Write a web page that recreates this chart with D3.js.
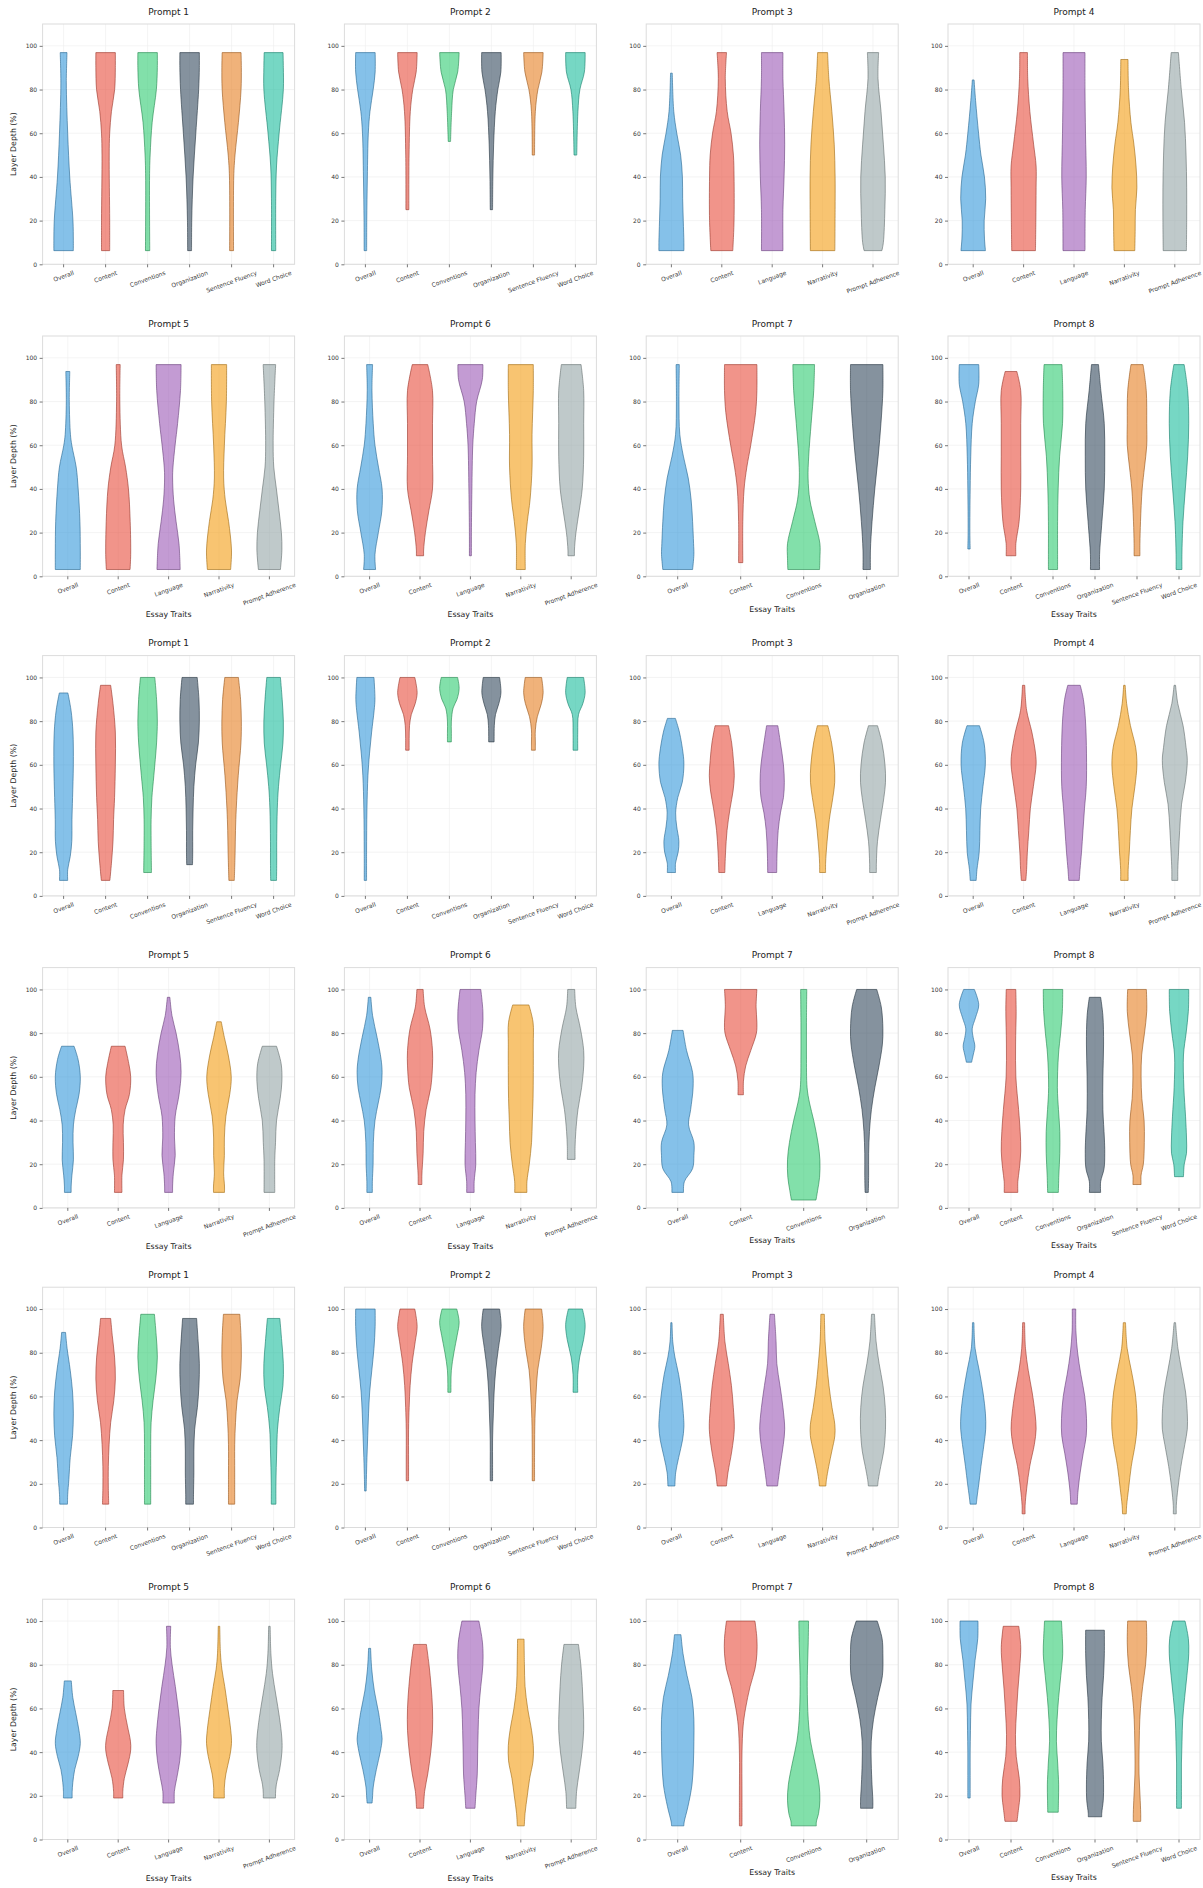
<!DOCTYPE html>
<html><head><meta charset="utf-8">
<script src="https://cdn.jsdelivr.net/npm/d3@7"></script>
<style>
body{margin:0;background:#fff}
svg{display:block}
text{font-family:"DejaVu Sans",sans-serif}
</style></head>
<body><svg id="chart" width="1203" height="1888"></svg>
<script>
// ---------------- DATA ----------------
const panelTitles = ["Prompt 1","Prompt 2","Prompt 3","Prompt 4","Prompt 5","Prompt 6","Prompt 7","Prompt 8"];
const traitsSix = ["Overall","Content","Conventions","Organization","Sentence Fluency","Word Choice"];
const traitsFive = ["Overall","Content","Language","Narrativity","Prompt Adherence"];
const traitsFour = ["Overall","Content","Conventions","Organization"];
const promptTraits = [traitsSix, traitsSix, traitsFive, traitsFive, traitsFive, traitsFive, traitsFour, traitsSix];
const yTickValues = [0, 20, 40, 60, 80, 100];
const yAxisTitle = "Layer Depth (%)";
const xAxisTitle = "Essay Traits";

// violin profiles: per prompt, per trait: [layer depth %, relative density width] from min to max depth
const modelA = [
 [ // Prompt 1
  [[6.25,1.0],[11,1.0],[20,0.96],[40,0.63],[60,0.42],[83,0.28],[96.9,0.35]],
  [[6.25,0.42],[20,0.42],[50,0.37],[60,0.42],[70,0.6],[80,0.93],[90,1.0],[96.9,1.0]],
  [[6.25,0.22],[40,0.2],[50,0.26],[65,0.47],[80,0.9],[90,1.0],[96.9,1.0]],
  [[6.25,0.2],[20,0.22],[40,0.36],[60,0.64],[80,0.93],[90,1.0],[96.9,1.0]],
  [[6.25,0.2],[40,0.22],[50,0.35],[65,0.7],[80,0.97],[90,1.0],[96.9,0.97]],
  [[6.25,0.22],[30,0.22],[45,0.3],[60,0.57],[80,1.0],[90,1.0],[96.9,0.97]]
 ],
 [ // Prompt 2
  [[6.25,0.13],[20,0.14],[40,0.2],[60,0.3],[70,0.47],[80,0.8],[88,1.0],[96.9,1.0]],
  [[25,0.15],[50,0.17],[70,0.3],[80,0.55],[88,0.9],[96.9,1.0]],
  [[56.25,0.12],[70,0.23],[80,0.4],[88,0.85],[96.9,1.0]],
  [[25,0.12],[40,0.15],[55,0.23],[70,0.4],[80,0.66],[88,0.97],[96.9,1.0]],
  [[50,0.12],[70,0.2],[80,0.46],[88,0.87],[96.9,1.0]],
  [[50,0.14],[70,0.26],[80,0.46],[88,0.92],[96.9,1.0]]
 ],
 [ // Prompt 3
  [[6.25,1.0],[10,1.0],[20,0.95],[30,0.9],[40,0.88],[50,0.74],[60,0.43],[70,0.19],[87.5,0.07]],
  [[6.25,0.88],[20,0.98],[40,0.98],[50,0.93],[60,0.74],[70,0.43],[85,0.28],[96.9,0.38]],
  [[6.25,0.86],[25,0.86],[40,0.95],[55,1.0],[70,0.95],[85,0.86],[96.9,0.86]],
  [[6.25,0.98],[25,1.0],[40,1.0],[55,0.93],[70,0.74],[85,0.5],[96.9,0.4]],
  [[6.25,0.71],[10,0.83],[25,0.95],[40,0.98],[55,0.83],[70,0.64],[85,0.4],[96.9,0.45]]
 ],
 [ // Prompt 4
  [[6.25,0.98],[12,0.9],[20,0.88],[30,1.0],[40,0.9],[50,0.62],[60,0.43],[75,0.19],[84.4,0.07]],
  [[6.25,0.95],[20,0.98],[35,1.0],[45,1.0],[55,0.8],[70,0.5],[85,0.33],[96.9,0.31]],
  [[6.25,0.88],[25,0.9],[40,0.98],[60,0.92],[80,0.88],[96.9,0.88]],
  [[6.25,0.83],[15,0.86],[25,0.88],[35,1.0],[45,0.93],[55,0.76],[65,0.52],[80,0.33],[93.75,0.29]],
  [[6.25,0.93],[20,0.95],[35,0.95],[50,0.9],[65,0.78],[80,0.52],[96.9,0.29]]
 ],
 [ // Prompt 5
  [[3.1,1.0],[12,1.0],[25,0.97],[40,0.83],[50,0.67],[60,0.32],[65,0.21],[80,0.12],[93.75,0.16]],
  [[3.1,0.95],[10,1.0],[25,0.96],[40,0.82],[50,0.59],[60,0.27],[80,0.13],[96.9,0.16]],
  [[3.1,0.93],[15,0.83],[25,0.6],[35,0.4],[45,0.32],[50,0.35],[60,0.52],[70,0.72],[85,0.95],[96.9,1.0]],
  [[3.1,0.93],[12,1.0],[25,0.77],[35,0.5],[45,0.37],[60,0.43],[80,0.59],[96.9,0.61]],
  [[3.1,0.88],[12,1.0],[20,0.96],[30,0.77],[40,0.56],[50,0.35],[60,0.3],[80,0.37],[96.9,0.5]]
 ],
 [ // Prompt 6
  [[3.1,0.48],[10,0.43],[20,0.7],[30,0.98],[40,1.0],[50,0.71],[60,0.43],[70,0.29],[85,0.19],[96.9,0.24]],
  [[9.4,0.29],[12,0.29],[20,0.43],[30,0.71],[40,1.0],[55,1.0],[70,1.0],[85,1.0],[96.9,0.62]],
  [[9.4,0.08],[20,0.08],[40,0.12],[60,0.19],[70,0.31],[80,0.5],[90,0.95],[96.9,1.0]],
  [[3.1,0.36],[15,0.36],[25,0.52],[35,0.74],[50,0.9],[65,0.9],[85,1.0],[96.9,1.0]],
  [[9.4,0.26],[12,0.26],[20,0.38],[30,0.64],[40,0.88],[55,1.0],[70,1.0],[85,1.0],[96.9,0.79]]
 ],
 [ // Prompt 7
  [[3.1,0.92],[10,1.0],[15,0.98],[25,0.92],[35,0.83],[45,0.65],[55,0.35],[65,0.13],[80,0.08],[96.9,0.1]],
  [[6.25,0.13],[25,0.13],[40,0.21],[50,0.38],[60,0.62],[75,0.92],[85,1.0],[96.9,1.0]],
  [[3.1,0.98],[8,1.0],[15,1.0],[25,0.69],[35,0.38],[45,0.27],[55,0.31],[70,0.46],[85,0.62],[96.9,0.67]],
  [[3.1,0.23],[12,0.23],[25,0.33],[40,0.5],[55,0.71],[70,0.88],[85,1.0],[96.9,1.0]]
 ],
 [ // Prompt 8
  [[12.5,0.12],[20,0.09],[40,0.12],[55,0.18],[70,0.33],[80,0.65],[88,1.0],[96.9,1.0]],
  [[9.4,0.5],[15,0.5],[25,0.83],[40,1.0],[55,1.0],[70,1.0],[85,1.0],[93.75,0.6]],
  [[3.1,0.47],[10,0.47],[25,0.47],[40,0.53],[55,0.68],[70,0.98],[85,1.0],[96.9,0.92]],
  [[3.1,0.47],[10,0.47],[25,0.71],[40,0.95],[55,1.0],[70,0.95],[85,0.6],[96.9,0.36]],
  [[9.4,0.3],[15,0.3],[25,0.36],[40,0.53],[50,0.77],[60,1.0],[70,1.0],[85,0.95],[96.9,0.62]],
  [[3.1,0.3],[10,0.3],[25,0.41],[40,0.65],[55,0.89],[70,1.0],[85,0.89],[96.9,0.53]]
 ]
];

const modelB = [
 [ // Prompt 1
  [[7.1,0.42],[12,0.42],[18,0.68],[25,0.84],[35,0.86],[45,0.92],[60,1.0],[75,0.96],[85,0.76],[92.9,0.44]],
  [[7.1,0.44],[15,0.6],[25,0.76],[35,0.82],[45,0.92],[60,1.0],[75,1.0],[88,0.76],[96.4,0.52]],
  [[10.7,0.4],[25,0.36],[35,0.36],[45,0.44],[55,0.64],[70,0.92],[80,1.0],[90,0.92],[100,0.74]],
  [[14.3,0.3],[20,0.32],[30,0.32],[40,0.36],[50,0.44],[60,0.62],[70,0.9],[80,1.0],[90,0.96],[100,0.78]],
  [[7.1,0.28],[20,0.36],[30,0.4],[40,0.48],[55,0.68],[70,0.96],[80,1.0],[90,0.92],[100,0.7]],
  [[7.1,0.3],[15,0.32],[25,0.32],[40,0.38],[50,0.5],[60,0.72],[70,0.96],[80,1.0],[90,0.88],[100,0.7]]
 ],
 [ // Prompt 2
  [[7.1,0.12],[20,0.12],[40,0.16],[55,0.26],[65,0.42],[75,0.64],[85,0.9],[90,0.98],[100,0.88]],
  [[66.7,0.18],[72,0.18],[78,0.22],[83,0.4],[88,0.8],[93,1.0],[100,0.76]],
  [[70.5,0.2],[75,0.2],[80,0.2],[86,0.38],[90,0.78],[95,1.0],[100,0.84]],
  [[70.5,0.28],[73,0.28],[78,0.3],[83,0.42],[88,0.76],[93,0.98],[100,0.84]],
  [[66.7,0.2],[70,0.2],[76,0.2],[82,0.4],[88,0.82],[93,1.0],[100,0.84]],
  [[66.7,0.24],[75,0.24],[83,0.32],[88,0.76],[93,1.0],[100,0.84]]
 ],
 [ // Prompt 3
  [[10.7,0.33],[15,0.33],[20,0.54],[25,0.6],[32,0.42],[38,0.34],[45,0.51],[52,0.87],[60,1.0],[65,0.94],[75,0.64],[81.25,0.32]],
  [[10.7,0.24],[20,0.3],[30,0.42],[40,0.66],[48,0.9],[55,1.0],[62,0.93],[70,0.79],[77.9,0.54]],
  [[10.7,0.36],[20,0.39],[30,0.48],[38,0.66],[45,0.9],[52,0.97],[60,0.9],[70,0.66],[77.9,0.45]],
  [[10.7,0.24],[15,0.24],[25,0.36],[35,0.54],[45,0.82],[52,0.97],[60,0.94],[70,0.72],[77.9,0.42]],
  [[10.7,0.27],[15,0.27],[25,0.36],[35,0.6],[45,0.87],[52,1.0],[60,0.96],[70,0.72],[77.9,0.36]]
 ],
 [ // Prompt 4
  [[7.1,0.24],[12,0.3],[20,0.48],[30,0.54],[40,0.6],[50,0.78],[60,0.97],[70,0.87],[77.9,0.5]],
  [[7.1,0.18],[12,0.24],[20,0.3],[30,0.42],[40,0.54],[50,0.78],[60,1.0],[65,0.96],[75,0.66],[85,0.24],[96.4,0.09]],
  [[7.1,0.42],[12,0.48],[20,0.6],[30,0.72],[40,0.84],[50,0.98],[65,1.0],[80,0.92],[90,0.75],[96.4,0.5]],
  [[7.1,0.3],[12,0.3],[20,0.39],[30,0.48],[40,0.6],[50,0.84],[60,1.0],[68,0.9],[78,0.48],[88,0.18],[96.4,0.06]],
  [[7.1,0.24],[12,0.24],[20,0.3],[30,0.39],[42,0.54],[52,0.84],[62,1.0],[68,0.9],[78,0.66],[88,0.24],[96.4,0.06]]
 ],
 [ // Prompt 5
  [[7.1,0.27],[10,0.27],[15,0.33],[22,0.45],[30,0.42],[38,0.45],[45,0.64],[52,0.9],[60,1.0],[68,0.82],[74,0.5]],
  [[7.1,0.3],[15,0.3],[22,0.42],[30,0.42],[38,0.4],[45,0.55],[52,0.9],[60,1.0],[66,0.85],[74,0.55]],
  [[7.1,0.32],[10,0.32],[16,0.38],[24,0.53],[32,0.47],[42,0.53],[52,0.84],[62,1.0],[70,0.9],[80,0.6],[88,0.27],[96.4,0.1]],
  [[7.1,0.44],[10,0.44],[16,0.37],[24,0.43],[32,0.43],[42,0.55],[52,0.86],[60,0.98],[70,0.74],[78,0.43],[85.2,0.18]],
  [[7.1,0.43],[22,0.43],[30,0.49],[40,0.57],[50,0.86],[58,1.0],[66,0.94],[74,0.57]]
 ],
 [ // Prompt 6
  [[7.1,0.22],[12,0.22],[20,0.28],[30,0.3],[40,0.43],[48,0.69],[55,0.92],[62,1.0],[68,0.92],[78,0.6],[88,0.24],[96.4,0.1]],
  [[10.7,0.15],[15,0.15],[25,0.25],[35,0.3],[45,0.49],[55,0.86],[65,1.0],[72,1.0],[82,0.8],[92,0.37],[100,0.25]],
  [[7.1,0.3],[12,0.3],[20,0.43],[30,0.4],[40,0.37],[52,0.37],[62,0.46],[72,0.68],[82,0.97],[90,1.0],[100,0.83]],
  [[7.1,0.49],[12,0.49],[20,0.68],[30,0.86],[40,0.92],[50,0.98],[62,1.0],[75,1.0],[85,0.98],[92.9,0.65]],
  [[22.2,0.31],[28,0.31],[35,0.37],[45,0.54],[55,0.83],[65,1.0],[72,1.0],[82,0.74],[92,0.37],[100,0.28]]
 ],
 [ // Prompt 7
  [[7.1,0.36],[12,0.41],[18,0.92],[24,1.0],[30,1.0],[38,0.67],[45,0.8],[55,0.95],[62,0.92],[72,0.55],[81.25,0.33]],
  [[51.8,0.17],[58,0.17],[65,0.31],[72,0.62],[80,0.97],[85,1.0],[92,0.95],[100,1.0]],
  [[3.6,0.76],[8,0.86],[14,0.98],[22,1.0],[30,0.88],[40,0.62],[48,0.36],[55,0.21],[70,0.17],[85,0.17],[100,0.19]],
  [[7.1,0.1],[15,0.12],[25,0.12],[35,0.17],[45,0.29],[55,0.5],[65,0.76],[75,0.97],[82,1.0],[92,0.9],[100,0.62]]
 ],
 [ // Prompt 8
  [[66.7,0.27],[70,0.43],[74,0.6],[78,0.43],[82,0.33],[87,0.66],[93,1.0],[100,0.55]],
  [[7.1,0.7],[12,0.7],[18,0.86],[26,1.0],[35,0.94],[45,0.78],[60,0.5],[75,0.47],[90,0.53],[100,0.49]],
  [[7.1,0.55],[15,0.6],[25,0.7],[35,0.7],[45,0.56],[55,0.45],[70,0.56],[80,0.78],[90,0.96],[100,1.0]],
  [[7.1,0.58],[12,0.58],[18,0.93],[25,1.0],[32,0.96],[45,0.81],[60,0.81],[75,0.88],[88,0.81],[96.4,0.58]],
  [[10.7,0.42],[15,0.42],[20,0.65],[30,0.75],[40,0.73],[50,0.5],[60,0.42],[70,0.48],[80,0.77],[90,1.0],[100,0.96]],
  [[14.3,0.46],[20,0.54],[25,0.77],[32,0.77],[42,0.67],[55,0.5],[70,0.46],[80,0.73],[90,0.96],[100,1.0]]
 ]
];

const modelC = [
 [ // Prompt 1
  [[10.7,0.4],[15,0.42],[22,0.54],[32,0.68],[42,0.92],[52,1.0],[62,0.92],[72,0.68],[82,0.36],[89.3,0.2]],
  [[10.7,0.32],[18,0.28],[28,0.28],[38,0.36],[48,0.52],[58,0.84],[68,1.0],[78,0.92],[88,0.68],[95.7,0.52]],
  [[10.7,0.32],[25,0.32],[38,0.32],[48,0.36],[58,0.56],[68,0.84],[78,1.0],[88,0.88],[97.6,0.7]],
  [[10.7,0.4],[15,0.4],[25,0.44],[35,0.44],[45,0.52],[55,0.8],[65,0.96],[75,1.0],[85,0.88],[95.7,0.72]],
  [[10.7,0.32],[25,0.32],[38,0.32],[48,0.4],[58,0.56],[68,0.88],[78,1.0],[88,0.96],[97.6,0.84]],
  [[10.7,0.24],[20,0.24],[35,0.32],[45,0.4],[55,0.64],[65,0.96],[75,1.0],[85,0.84],[95.7,0.64]]
 ],
 [ // Prompt 2
  [[16.7,0.08],[22,0.1],[32,0.16],[42,0.24],[52,0.32],[62,0.44],[72,0.66],[82,0.88],[92,1.0],[100,1.0]],
  [[21.4,0.12],[30,0.12],[45,0.12],[55,0.18],[65,0.28],[75,0.48],[85,0.8],[92,1.0],[100,0.76]],
  [[61.9,0.16],[66,0.16],[72,0.2],[80,0.46],[88,0.8],[94,1.0],[100,0.76]],
  [[21.4,0.12],[30,0.12],[40,0.12],[52,0.2],[62,0.28],[72,0.44],[82,0.72],[92,1.0],[100,0.84]],
  [[21.4,0.12],[35,0.12],[50,0.16],[62,0.28],[72,0.44],[82,0.8],[92,1.0],[100,0.84]],
  [[61.9,0.24],[70,0.24],[78,0.44],[86,0.84],[93,1.0],[100,0.72]]
 ],
 [ // Prompt 3
  [[19,0.28],[25,0.34],[32,0.58],[40,0.89],[46,1.0],[50,0.98],[60,0.83],[70,0.58],[78,0.28],[85,0.11],[93.75,0.05]],
  [[19,0.37],[25,0.49],[35,0.8],[45,1.0],[55,0.92],[65,0.77],[75,0.52],[85,0.25],[97.6,0.12]],
  [[19,0.43],[22,0.49],[30,0.68],[38,0.89],[45,1.0],[55,0.86],[65,0.62],[75,0.37],[85,0.31],[97.6,0.18]],
  [[19,0.26],[22,0.31],[28,0.49],[35,0.74],[42,0.98],[47,0.98],[55,0.75],[65,0.51],[75,0.34],[85,0.2],[97.6,0.14]],
  [[19,0.37],[22,0.43],[28,0.62],[35,0.86],[45,1.0],[55,0.98],[65,0.8],[75,0.49],[85,0.25],[97.6,0.12]]
 ],
 [ // Prompt 4
  [[10.7,0.25],[14,0.31],[20,0.45],[28,0.62],[38,0.86],[45,1.0],[52,0.98],[62,0.78],[72,0.48],[82,0.15],[93.75,0.06]],
  [[6.25,0.12],[10,0.12],[18,0.25],[28,0.49],[38,0.86],[45,1.0],[52,0.92],[62,0.68],[72,0.37],[82,0.15],[93.75,0.08]],
  [[10.7,0.26],[16,0.31],[25,0.49],[34,0.74],[42,0.98],[50,1.0],[60,0.86],[70,0.55],[80,0.29],[90,0.15],[100,0.14]],
  [[6.25,0.15],[10,0.18],[18,0.34],[28,0.55],[38,0.86],[45,1.0],[52,1.0],[62,0.86],[72,0.55],[82,0.22],[93.75,0.09]],
  [[6.25,0.12],[10,0.12],[18,0.25],[28,0.49],[38,0.8],[45,1.0],[52,1.0],[62,0.86],[72,0.55],[82,0.25],[93.75,0.06]]
 ],
 [ // Prompt 5
  [[19,0.35],[22,0.35],[26,0.4],[32,0.55],[38,0.83],[44,1.0],[50,0.89],[58,0.63],[65,0.4],[72.6,0.28]],
  [[19,0.37],[22,0.37],[28,0.49],[35,0.8],[41,1.0],[45,0.98],[52,0.74],[60,0.49],[68.2,0.43]],
  [[16.7,0.46],[22,0.46],[28,0.65],[36,0.89],[44,1.0],[50,0.95],[60,0.77],[70,0.54],[80,0.28],[88,0.14],[97.6,0.17]],
  [[19,0.43],[24,0.43],[30,0.55],[38,0.86],[44,1.0],[50,0.94],[60,0.71],[70,0.46],[78,0.23],[85,0.12],[97.6,0.06]],
  [[19,0.49],[21,0.49],[25,0.55],[32,0.82],[40,1.0],[46,1.0],[56,0.8],[66,0.52],[76,0.25],[85,0.12],[97.6,0.06]]
 ],
 [ // Prompt 6
  [[16.7,0.2],[19,0.23],[24,0.29],[32,0.54],[40,0.85],[46,1.0],[50,0.92],[58,0.72],[68,0.38],[78,0.17],[87.5,0.08]],
  [[14.3,0.28],[22,0.37],[30,0.62],[40,0.86],[50,1.0],[60,1.0],[70,0.89],[80,0.72],[89.3,0.51]],
  [[14.3,0.37],[20,0.43],[30,0.55],[40,0.58],[50,0.62],[60,0.68],[70,0.83],[80,1.0],[90,0.97],[100,0.68]],
  [[6.25,0.28],[12,0.34],[20,0.52],[28,0.71],[36,0.98],[43,1.0],[50,0.86],[60,0.55],[70,0.34],[80,0.29],[91.7,0.26]],
  [[14.3,0.37],[22,0.43],[30,0.62],[40,0.86],[50,1.0],[60,0.97],[70,0.89],[80,0.77],[89.3,0.58]]
 ],
 [ // Prompt 7
  [[6.25,0.38],[8,0.4],[15,0.63],[25,0.88],[35,0.97],[45,1.0],[55,1.0],[65,0.88],[75,0.58],[85,0.33],[93.75,0.2]],
  [[6.25,0.08],[20,0.08],[40,0.08],[52,0.15],[60,0.3],[70,0.58],[78,0.88],[85,1.0],[92,1.0],[100,0.88]],
  [[6.25,0.78],[8,0.78],[12,0.92],[18,1.0],[25,0.95],[35,0.7],[45,0.42],[55,0.28],[70,0.22],[80,0.24],[90,0.28],[100,0.3]],
  [[14.3,0.38],[18,0.38],[25,0.33],[35,0.28],[45,0.28],[55,0.42],[65,0.68],[75,0.97],[85,1.0],[92,0.95],[100,0.65]]
 ],
 [ // Prompt 8
  [[19,0.12],[30,0.12],[40,0.12],[50,0.15],[62,0.21],[72,0.4],[82,0.62],[92,0.9],[100,0.92]],
  [[8.3,0.62],[14,0.77],[20,0.92],[28,0.85],[38,0.54],[48,0.46],[58,0.56],[68,0.7],[78,0.88],[88,1.0],[97.6,0.8]],
  [[12.5,0.54],[18,0.56],[25,0.58],[35,0.48],[45,0.35],[55,0.42],[65,0.58],[75,0.8],[85,1.0],[92,0.96],[100,0.87]],
  [[10.4,0.69],[12,0.69],[18,0.85],[25,0.88],[35,0.81],[45,0.65],[55,0.65],[65,0.73],[75,0.88],[85,0.96],[95.8,0.96]],
  [[8.3,0.38],[12,0.38],[20,0.31],[30,0.21],[40,0.21],[50,0.25],[60,0.35],[70,0.58],[80,0.88],[90,1.0],[100,0.96]],
  [[14.3,0.25],[25,0.25],[35,0.25],[45,0.31],[55,0.38],[65,0.58],[75,0.81],[85,1.0],[92,0.96],[100,0.62]]
 ]
];

// ---------------- STYLE ----------------
const traitColors = {
  "Overall":"#3498db","Content":"#e74c3c","Conventions":"#2ecc71","Organization":"#34495e",
  "Sentence Fluency":"#e67e22","Word Choice":"#1abc9c","Language":"#9b59b6",
  "Narrativity":"#f39c12","Prompt Adherence":"#95a5a6"
};
const widthFrac = {6:0.464, 5:0.496, 4:0.514};
const FIG_H = 631.6, PANEL_W = 252, PANEL_H = 240.3;
const COL_X0 = 42.6, COL_STEP = 301.8, ROW_TOP = [24, 336];
const ROT = 20, TICK_FS = 6, TITLE_FS = 9, LABEL_FS = 7.8;

const svg = d3.select("#chart");
svg.append("rect").attr("width",1203).attr("height",1888).attr("fill","#fff");

const models = [modelA, modelB, modelC];
models.forEach((model, fi) => {
  model.forEach((violins, pi) => {
    const row = Math.floor(pi / 4), col = pi % 4;
    const left = COL_X0 + col * COL_STEP;
    const top = fi * FIG_H + ROW_TOP[row];
    const bottom = top + PANEL_H;
    const traits = promptTraits[pi];
    const x = d3.scaleBand().domain(traits).range([left, left + PANEL_W]);
    const y = d3.scaleLinear().domain([0, 110]).range([bottom, top]);
    const g = svg.append("g");

    // grid
    g.selectAll(null).data(yTickValues).join("line")
      .attr("x1", left).attr("x2", left + PANEL_W)
      .attr("y1", d => y(d)).attr("y2", d => y(d))
      .attr("stroke", "#ececec").attr("stroke-width", 0.6);
    g.selectAll(null).data(traits).join("line")
      .attr("x1", d => x(d) + x.bandwidth()/2).attr("x2", d => x(d) + x.bandwidth()/2)
      .attr("y1", top).attr("y2", bottom)
      .attr("stroke", "#ececec").attr("stroke-width", 0.6);

    // violins
    const half = x.bandwidth() * widthFrac[traits.length] / 2;
    violins.forEach((prof, ti) => {
      const trait = traits[ti];
      const cx = x(trait) + x.bandwidth() / 2;
      const area = d3.area().curve(d3.curveCatmullRom.alpha(0.5))
        .y(d => y(d[0]))
        .x0(d => cx - d[1] * half)
        .x1(d => cx + d[1] * half);
      const base = traitColors[trait];
      g.append("path").attr("d", area(prof))
        .attr("fill", base).attr("fill-opacity", 0.6)
        .attr("stroke", d3.color(base).darker(1.2)).attr("stroke-opacity", 0.75)
        .attr("stroke-width", 0.8).attr("stroke-linejoin", "round");
    });

    // frame
    g.append("rect").attr("x", left).attr("y", top).attr("width", PANEL_W).attr("height", PANEL_H)
      .attr("fill", "none").attr("stroke", "#dcdcdc").attr("stroke-width", 1);

    // y axis
    const ya = g.append("g").attr("transform", `translate(${left},0)`)
      .call(d3.axisLeft(y).tickValues(yTickValues).tickSize(3).tickPadding(2.5));
    ya.select(".domain").remove();
    ya.selectAll(".tick line").attr("stroke", "#555").attr("stroke-width", 0.8);
    ya.selectAll(".tick text").attr("font-size", TICK_FS).attr("fill", "#333")
      .attr("font-family", "DejaVu Sans, sans-serif");

    // x axis
    const xa = g.append("g").attr("transform", `translate(0,${bottom})`)
      .call(d3.axisBottom(x).tickSize(3).tickPadding(2));
    xa.select(".domain").remove();
    xa.selectAll(".tick line").attr("stroke", "#555").attr("stroke-width", 0.8);
    let maxH = 0;
    const rad = ROT * Math.PI / 180;
    xa.selectAll(".tick text").each(function() {
      const t = d3.select(this)
        .attr("font-size", TICK_FS).attr("fill", "#333")
        .attr("font-family", "DejaVu Sans, sans-serif")
        .attr("text-anchor", "middle").attr("y", 0).attr("dy", "0.35em");
      const w = this.getComputedTextLength();
      const h = TICK_FS * 1.15;
      const H = w * Math.sin(rad) + h * Math.cos(rad);
      maxH = Math.max(maxH, H);
      t.attr("transform", `translate(0,${5 + H/2}) rotate(${-ROT})`);
    });

    // title
    g.append("text").attr("x", left + PANEL_W/2).attr("y", top - 12.4)
      .attr("text-anchor", "middle").attr("dy", "0.35em")
      .attr("font-size", TITLE_FS).attr("fill", "#222").text(panelTitles[pi]);

    // y label
    if (col === 0) {
      g.append("text")
        .attr("transform", `translate(13.3,${(top + bottom)/2}) rotate(-90)`)
        .attr("text-anchor", "middle").attr("dy", "0.35em")
        .attr("font-size", LABEL_FS).attr("fill", "#222").text(yAxisTitle);
    }
    // x label
    if (row === 1) {
      g.append("text").attr("x", left + PANEL_W/2)
        .attr("y", bottom + 5 + maxH + 4 + LABEL_FS/2)
        .attr("text-anchor", "middle").attr("dy", "0.35em")
        .attr("font-size", LABEL_FS).attr("fill", "#222").text(xAxisTitle);
    }
  });
});
</script></body></html>
